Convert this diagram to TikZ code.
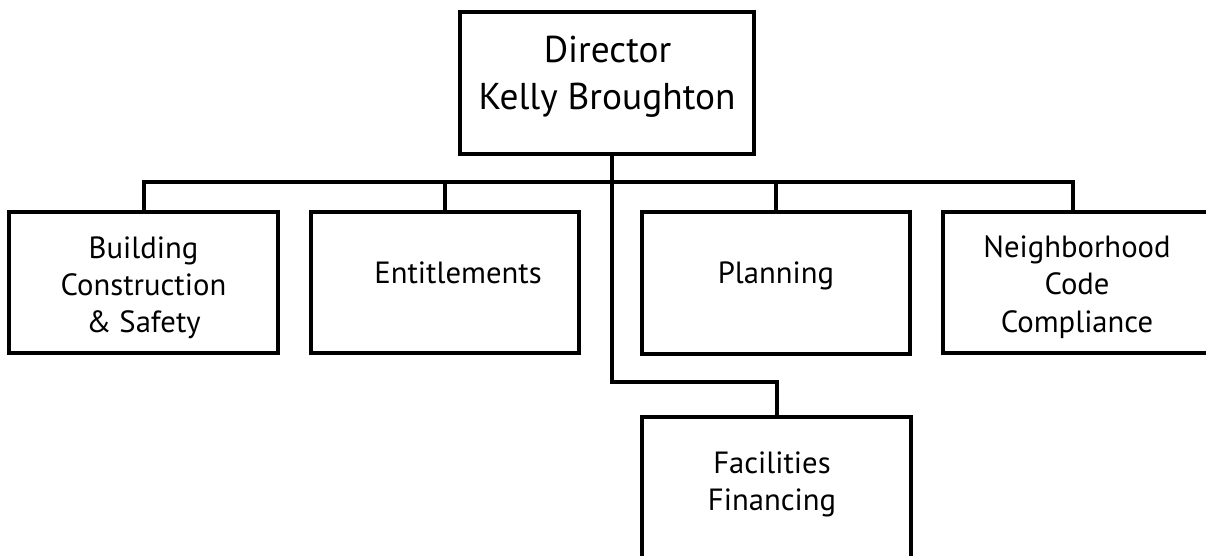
\documentclass[tikz,border=0pt]{standalone}
\usepackage{fontspec}
\setmainfont{PT Sans}
\begin{document}
\begin{tikzpicture}[x=0.75pt,y=-0.75pt,
  box/.style={draw,line width=3pt,rectangle,inner sep=0pt,line join=miter},
  conn/.style={line width=3pt,line join=miter},
  big/.style={anchor=base,inner sep=0pt,font=\fontsize{28}{32}\selectfont},
  lbl/.style={anchor=base,inner sep=0pt,font=\fontsize{23}{27}\selectfont}]
\useasboundingbox (0,0) rectangle (1206,556);
% boxes
\node[box,minimum width=220.5pt,minimum height=106.5pt] (dir) at (607,83) {};
\node[box,minimum width=201.75pt,minimum height=105.75pt] (b1) at (143.5,282.5) {};
\node[box,minimum width=201pt,minimum height=105.75pt] (b2) at (445,282.5) {};
\node[box,minimum width=201pt,minimum height=106.5pt] (b3) at (776,283) {};
\node[box,minimum width=204.75pt,minimum height=105.75pt] (b4) at (1079.5,282.5) {};
\node[box,minimum width=201.75pt,minimum height=114.75pt] (b5) at (776.5,493.5) {};
% coordinates
\coordinate (j) at (612,182);
\coordinate (j4) at (1073,182);
\coordinate (k) at (777,382);
% connectors
\draw[conn] (j |- dir.south) -- (j);
\draw[conn] (b1.north) |- (j4) -- (j4 |- b4.north);
\draw[conn] (b2.north) -- (b2.north |- j);
\draw[conn] (b3.north) -- (b3.north |- j);
\draw[conn] (j) |- (k) -- (k |- b5.north);
% texts
\node[big] (t1) at (607.5,63) {Director};
\node[big] (t2) at (607,110) {Kelly Broughton};
\node[lbl] (t3) at (143.5,258) {Building};
\node[lbl] (t4) at (143.5,295) {Construction};
\node[lbl] (t5) at (143.5,332) {\& Safety};
\node[lbl] (t6) at (458,283) {Entitlements};
\node[lbl] (t7) at (776,283) {Planning};
\node[lbl] (t8) at (1077,257) {Neighborhood};
\node[lbl] (t9) at (1077,294) {Code};
\node[lbl] (t10) at (1077,332) {Compliance};
\node[lbl] (t11) at (772,473) {Facilities};
\node[lbl] (t12) at (772,510) {Financing};
\end{tikzpicture}
\end{document}
